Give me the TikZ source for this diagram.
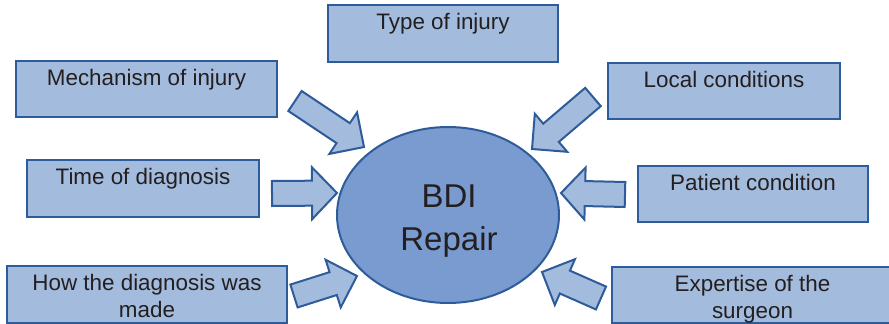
\documentclass[tikz,border=0pt]{standalone}
\usepackage{fontspec}
\setmainfont{Liberation Sans}
\usetikzlibrary{calc,shapes.geometric}

\definecolor{boxfill}{RGB}{163,187,220}
\definecolor{hubfill}{RGB}{122,155,207}
\definecolor{edge}{RGB}{46,92,154}
\definecolor{ink}{RGB}{35,31,32}

% Block arrow from a tail coordinate to a tip coordinate:
% #1 tail, #2 tip, #3 half shaft width, #4 half head width, #5 head length
\newcommand\blockarrow[5]{%
  \coordinate (ba) at ($(#2)!#5!(#1)$);
  \draw[blockarr]
    ($(#1)!#3!90:(#2)$) -- ($(ba)!#3!-90:(#1)$) -- ($(ba)!#4!-90:(#1)$) --
    (#2) -- ($(ba)!#4!90:(#1)$) -- ($(ba)!#3!90:(#1)$) --
    ($(#1)!#3!-90:(#2)$) -- cycle;
}

\begin{document}
\begin{tikzpicture}[x=1pt,y={(0pt,-1pt)},
  factor/.style={draw=edge, fill=boxfill, line width=2.4pt},
  % base anchor of a multi-line label sits on its last line
  factortext/.style={anchor=base, text=ink, align=center, inner sep=0pt,
    font=\fontsize{22.4pt}{27pt}\selectfont},
  hub/.style={ellipse, draw=edge, fill=hubfill, line width=2pt,
    minimum width=222pt, minimum height=176pt, inner sep=0pt},
  hubtext/.style={anchor=base, text=ink, align=center, inner sep=0pt,
    font=\fontsize{33pt}{43pt}\selectfont},
  blockarr/.style={draw=edge, fill=boxfill, line width=2pt, line join=miter}]

\useasboundingbox (0,0) rectangle (889,324);

% factor boxes
\draw[factor] (328,5) rectangle (558,62);
\node[factortext] (typetxt) at (443,29.5) {Type of injury};

\draw[factor] (16,61) rectangle (277,117);
\node[factortext] (mechtxt) at (146.5,85.5) {Mechanism of injury};

\draw[factor] (27,160) rectangle (259,217);
\node[factortext] (timetxt) at (143,184) {Time of diagnosis};

\draw[factor] (7,266) rectangle (287,323);
\node[factortext] (howtxt) at (147,317) {How the diagnosis was\\made};

\draw[factor] (608,63) rectangle (840,119);
\node[factortext] (localtxt) at (724,87.5) {Local conditions};

\draw[factor] (638,166) rectangle (868,222);
\node[factortext] (pattxt) at (753,190) {Patient condition};

\draw[factor] (612,267) rectangle (893,323);
\node[factortext] (exptxt) at (752.5,318) {Expertise of the\\surgeon};

% central ellipse
\node[hub] (bdi) at (448,215) {};
\node[hubtext] (bditxt) at (449,250) {BDI\\Repair};

% arrow tails and tips
\coordinate (mechT) at (295,101);   \coordinate (mechP) at (364,147);
\coordinate (timeT) at (272,193.5); \coordinate (timeP) at (337,193);
\coordinate (howT)  at (294,296);   \coordinate (howP)  at (357,276);
\coordinate (locT)  at (593,97);    \coordinate (locP)  at (532,149);
\coordinate (patT)  at (625,194.5); \coordinate (patP)  at (561,193);
\coordinate (expT)  at (601,298);   \coordinate (expP)  at (542,272);

\blockarrow{mechT}{mechP}{12pt}{25pt}{25pt}
\blockarrow{timeT}{timeP}{12.5pt}{26pt}{25pt}
\blockarrow{howT}{howP}{12pt}{25pt}{25pt}
\blockarrow{locT}{locP}{12pt}{25pt}{25pt}
\blockarrow{patT}{patP}{12.5pt}{26pt}{24pt}
\blockarrow{expT}{expP}{12.5pt}{25pt}{25pt}

\end{tikzpicture}
\end{document}
